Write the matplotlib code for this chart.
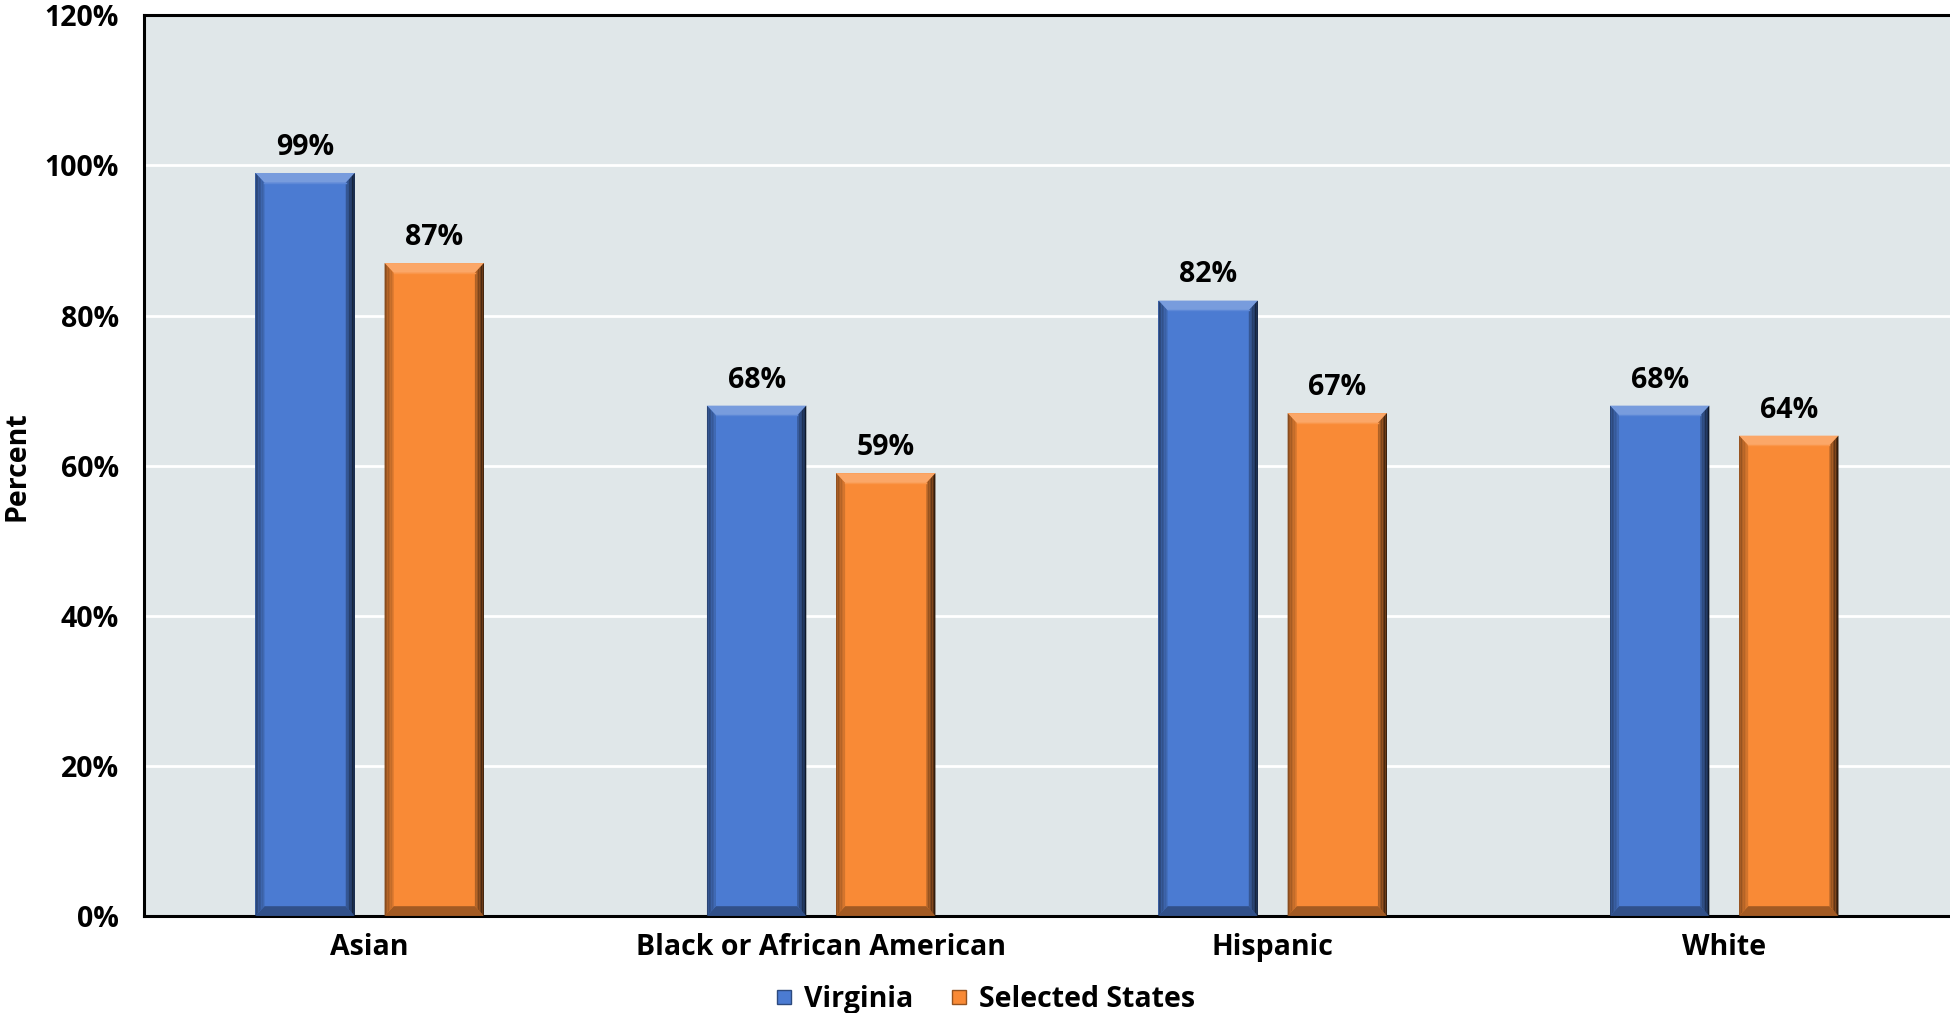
import matplotlib
matplotlib.use("Agg")
import matplotlib.pyplot as plt
from matplotlib.patches import Polygon
from matplotlib.lines import Line2D
import numpy as np
from matplotlib.colors import to_rgb

categories = ["Asian", "Black or African American", "Hispanic", "White"]
virginia = [99, 68, 82, 68]
selected = [87, 59, 67, 64]
series_names = ["Virginia", "Selected States"]
yticks = [0, 20, 40, 60, 80, 100, 120]
ytick_labels = ["0%", "20%", "40%", "60%", "80%", "100%", "120%"]

plt.rcParams['font.family'] = ['Open Sans', 'DejaVu Sans']
FS = 20.5

fig = plt.figure(figsize=(19.5, 10.13), dpi=100)
ax = fig.add_axes([0.0738, 0.0958, 0.9262, 0.889])
ax.set_facecolor("#E0E7E9")

x = np.arange(len(categories))
w = 0.22
off = 0.143
blue = "#4B7BD2"
orange = "#F98A36"

ax.set_xlim(-0.5, 3.5)
ax.set_ylim(0, 120)
ax.set_yticks(yticks)
ax.set_yticklabels(ytick_labels, fontsize=FS, fontweight='bold')
ax.yaxis.grid(True, color="white", linewidth=2)
ax.set_axisbelow(True)
ax.tick_params(axis='y', length=0, pad=18)
ax.tick_params(axis='x', length=0, pad=12)
ax.set_xticks(x)
ax.set_xticklabels(categories, fontsize=FS, fontweight='bold')
for s in ["left", "bottom", "top"]:
    ax.spines[s].set_linewidth(2.2)
    ax.spines[s].set_color("black")
ax.spines["right"].set_visible(False)
ax.set_ylabel("Percent", fontsize=FS, fontweight='bold', labelpad=10)
ax.yaxis.set_label_coords(-0.062, 0.5)


def mix(c, t, amt):
    c = np.array(to_rgb(c)); t = np.array(to_rgb(t))
    return tuple(c * (1 - amt) + t * amt)


def bevel(rect, color):
    x0 = rect.get_x(); y0 = rect.get_y()
    bw = rect.get_width(); h = rect.get_height()
    x1 = x0 + bw; y1 = y0 + h
    dx = 0.02; dy = 1.3
    ax.add_patch(Polygon([(x0, y1), (x1, y1), (x1 - dx, y1 - dy), (x0 + dx, y1 - dy)],
                         closed=True, facecolor=mix(color, "white", 0.25), edgecolor='none', zorder=3))
    ax.add_patch(Polygon([(x0, y0), (x1, y0), (x1 - dx, y0 + dy), (x0 + dx, y0 + dy)],
                         closed=True, facecolor=mix(color, "black", 0.35), edgecolor='none', zorder=3))
    n = 6
    for i in range(n):
        a = x0 + dx * i / n; b = x0 + dx * (i + 1) / n
        ax.add_patch(Polygon([(a, y0 + dy * i / n), (b, y0 + dy * (i + 1) / n),
                              (b, y1 - dy * (i + 1) / n), (a, y1 - dy * i / n)],
                             closed=True, facecolor=mix(color, "black", 0.45 - 0.35 * i / n),
                             edgecolor='none', zorder=3))
    for i in range(n):
        a = x1 - dx * i / n; b = x1 - dx * (i + 1) / n
        ax.add_patch(Polygon([(a, y0 + dy * i / n), (b, y0 + dy * (i + 1) / n),
                              (b, y1 - dy * (i + 1) / n), (a, y1 - dy * i / n)],
                             closed=True, facecolor=mix(color, "black", 0.8 - 0.6 * i / n),
                             edgecolor='none', zorder=3))
    ax.plot([x0 + dx, x1 - dx], [y1 - dy, y1 - dy], color=mix(color, "white", 0.1), lw=1, zorder=3)


for vals, o, col in [(virginia, -off, blue), (selected, off, orange)]:
    bars = ax.bar(x + o, vals, width=w, color=col, edgecolor='none', zorder=2)
    for r, v in zip(bars, vals):
        bevel(r, col)
        ax.annotate(f"{v}%", (r.get_x() + r.get_width() / 2, v), xytext=(0, 8),
                    textcoords='offset points', ha='center', va='bottom',
                    fontsize=FS, fontweight='bold', zorder=4)

handles = [Line2D([], [], marker='s', linestyle='none', markersize=10,
                  markerfacecolor=blue, markeredgecolor=mix(blue, "black", 0.4)),
           Line2D([], [], marker='s', linestyle='none', markersize=10,
                  markerfacecolor=orange, markeredgecolor=mix(orange, "black", 0.4))]
leg = fig.legend(handles, series_names, loc='lower center', bbox_to_anchor=(0.5, -0.026),
                 ncol=2, frameon=False, handletextpad=-0.3, columnspacing=0.6,
                 prop={'size': FS, 'weight': 'bold'})

fig.savefig("out.png", dpi=100)
